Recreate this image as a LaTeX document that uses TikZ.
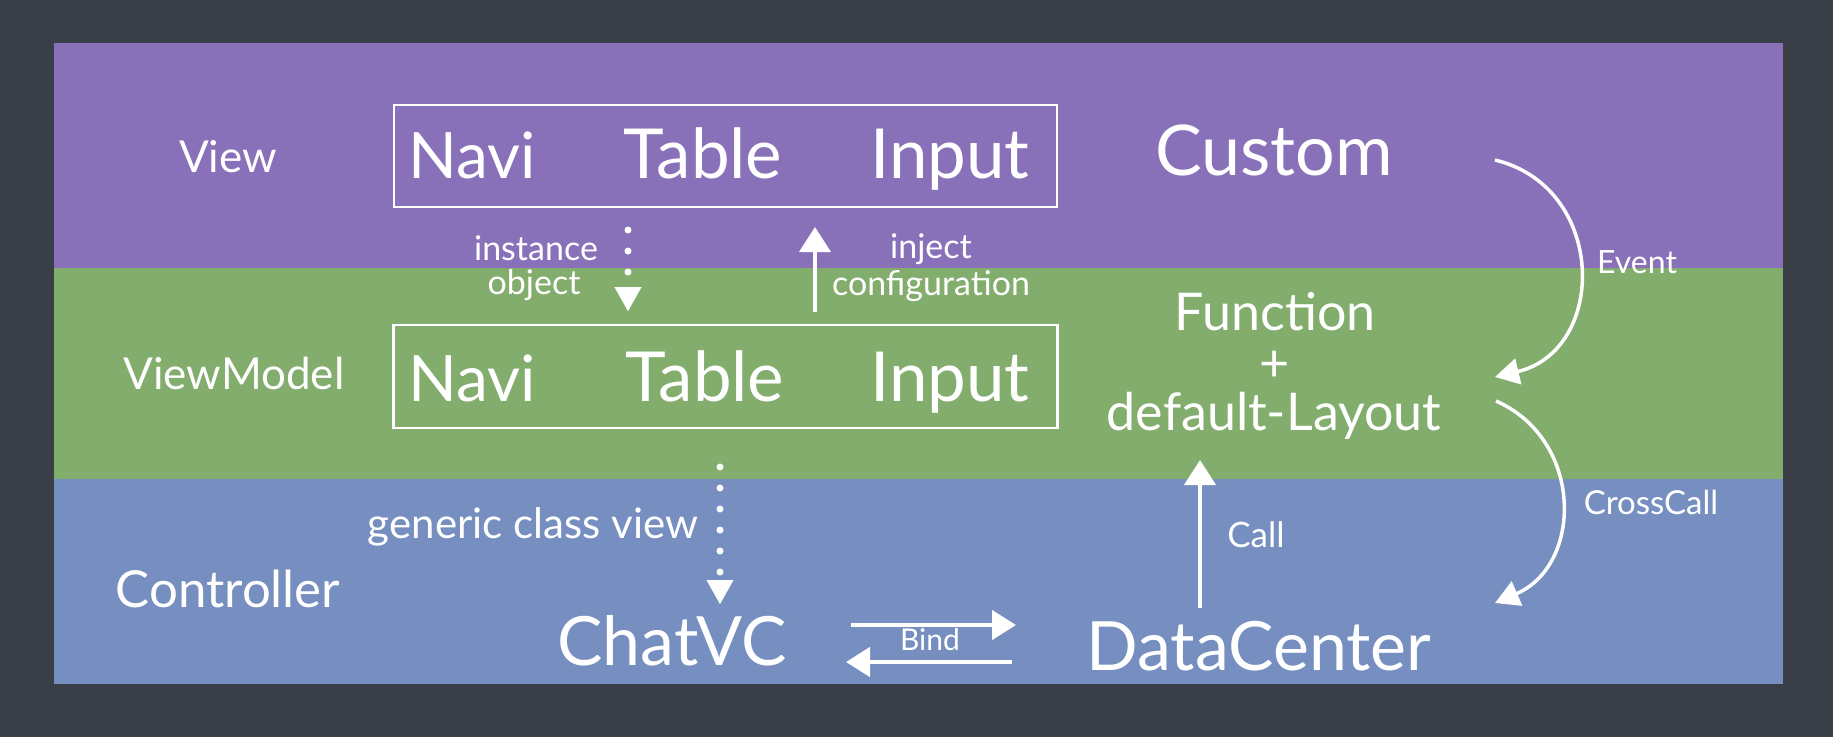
\documentclass[tikz,border=0pt]{standalone}
\usepackage{fontspec}
\setmainfont{Lato}
\usetikzlibrary{arrows.meta}
\definecolor{bgc}{RGB}{58,62,70}
\definecolor{purp}{RGB}{137,113,185}
\definecolor{grn}{RGB}{130,173,109}
\definecolor{blu}{RGB}{118,143,192}
\tikzset{
  chalk/.style={text=white, inner sep=0pt, anchor=base},
  fs/.style={font=\fontsize{#1}{#1}\selectfont},
  chalkbox/.style={draw=white, line width=2.5pt, inner sep=0pt},
  solidarrow/.style={draw=white, line width=4pt, -{Triangle[width=31pt,length=25pt]}},
  dotarrow/.style={draw=white, line width=7pt, line cap=round, dash pattern=on 0pt off 21pt, -{Triangle[width=27pt,length=24pt,line width=0.1pt]}},
  curvearrow/.style={draw=white, line width=3.5pt, -{Triangle[width=26pt,length=24pt]}}
}
\begin{document}
\begin{tikzpicture}[x=1pt,y=-1pt]
\fill[bgc] (0,0) rectangle (1833,737);
\useasboundingbox (0,0) rectangle (1833,737);
\fill[purp] (54,43) rectangle (1783,268);
\fill[grn] (54,268) rectangle (1783,479);
\fill[blu] (54,479) rectangle (1783,684);

% layer labels
\node[chalk, fs=44] (lview) at (228,172) {View};
\node[chalk, fs=44] (lvm) at (234,389) {ViewModel};
\node[chalk, fs=51] (lctrl) at (228,607) {Controller};

% boxes
\node[chalkbox, minimum width=663pt, minimum height=102pt] (vbox) at (725.5,156) {};
\node[chalkbox, minimum width=664pt, minimum height=103pt] (vmbox) at (725.5,376.5) {};

\node[chalk, fs=64] (vnavi) at (472,178) {Navi};
\node[chalk, fs=69] (vtable) at (703,178) {Table};
\node[chalk, fs=69] (vinput) at (950,178) {Input};
\node[chalk, fs=64] (mnavi) at (472,401) {Navi};
\node[chalk, fs=69] (mtable) at (705,401) {Table};
\node[chalk, fs=69] (minput) at (950,401) {Input};

\node[chalk, fs=70] (custom) at (1274,175) {Custom};
\node[chalk, fs=52] (func) at (1275,330) {Function};
\node[chalk, fs=52] (plus) at (1275,381) {+};
\node[chalk, fs=52] (deflay) at (1274,430) {default-Layout};

\node[chalk, fs=68] (chatvc) at (672,665) {ChatVC};
\node[chalk, fs=68] (datac) at (1259,670) {DataCenter};

% small labels
\node[chalk, fs=34] (linst) at (536,260) {instance};
\node[chalk, fs=34] (lobj) at (534,294) {object};
\node[chalk, fs=34] (linj) at (931,258) {inject};
\node[chalk, fs=34] (lconf) at (931,295) {configuration};
\node[chalk, fs=42] (lgen) at (533,538) {generic class view};
\node[chalk, fs=32] (levent) at (1637,273) {Event};
\node[chalk, fs=33] (lcross) at (1651,514) {CrossCall};
\node[chalk, fs=35] (lcall) at (1256,547) {Call};
\node[chalk, fs=30] (lbind) at (930,650) {Bind};

% connector end points
\coordinate (io1) at (628,230);
\coordinate (io2) at (628,311);
\coordinate (ij1) at (815,312);
\coordinate (ij2) at (815,227);
\coordinate (gc1) at (720,467);
\coordinate (gc2) at (720,604);
\coordinate (ca1) at (1200,608);
\coordinate (ca2) at (1200,460);
\coordinate (bd1) at (851,625);
\coordinate (bd2) at (1016,625);
\coordinate (bd3) at (1012,662);
\coordinate (bd4) at (846,662);
\coordinate (ev1) at (1495,160);
\coordinate (ev2) at (1495,377);
\coordinate (cc1) at (1496,401);
\coordinate (cc2) at (1495,603);

\draw[dotarrow] (io1) -- (io2);
\draw[solidarrow] (ij1) -- (ij2);
\draw[dotarrow] (gc1) -- (gc2);
\draw[solidarrow] (ca1) -- (ca2);
\draw[solidarrow, line width=4.5pt, -{Triangle[width=29pt,length=24pt]}] (bd1) -- (bd2);
\draw[solidarrow, line width=4.5pt, -{Triangle[width=29pt,length=24pt]}] (bd3) -- (bd4);
\draw[curvearrow] (ev1) .. controls (1607,187) and (1608,350) .. (ev2);
\draw[curvearrow] (cc1) .. controls (1584,440) and (1583,565) .. (cc2);
\end{tikzpicture}
\end{document}
